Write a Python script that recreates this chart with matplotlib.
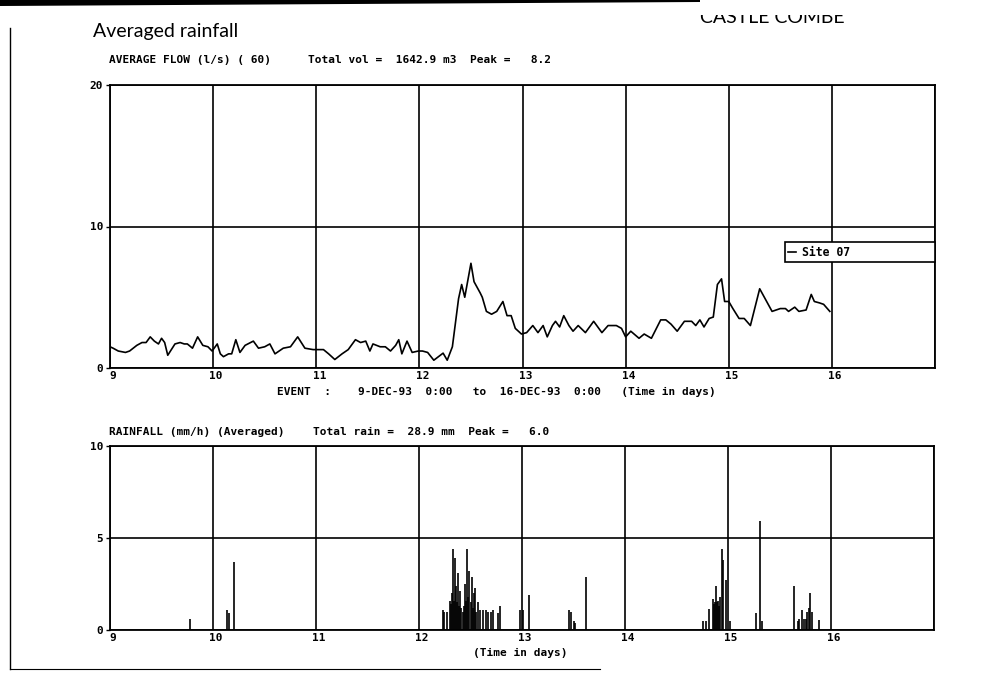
import matplotlib
matplotlib.use("Agg")
import matplotlib.pyplot as plt
from matplotlib.transforms import ScaledTranslation
from matplotlib.patches import Polygon, Rectangle
from matplotlib.lines import Line2D

# ---------------- data ----------------
flow_t = [9.00, 9.03, 9.08, 9.15, 9.19, 9.26, 9.31, 9.35, 9.39, 9.43, 9.47, 9.50, 9.53, 9.56,
          9.63, 9.68, 9.72, 9.75, 9.80, 9.85, 9.90, 9.95, 9.99,
          10.04, 10.07, 10.10, 10.15, 10.18, 10.22, 10.26, 10.31, 10.39, 10.44, 10.50, 10.55,
          10.60, 10.68, 10.75, 10.82, 10.89, 10.97,
          11.07, 11.12, 11.18, 11.25, 11.31, 11.38, 11.43, 11.48, 11.52, 11.55, 11.62, 11.67,
          11.72, 11.77, 11.80, 11.83, 11.88, 11.93, 11.99,
          12.03, 12.08, 12.14, 12.23, 12.27, 12.32, 12.38, 12.41, 12.44, 12.50, 12.53, 12.59,
          12.61, 12.65, 12.70, 12.75, 12.81, 12.85, 12.89, 12.93, 12.99,
          13.04, 13.10, 13.15, 13.20, 13.24, 13.29, 13.32, 13.36, 13.40, 13.45, 13.49, 13.54,
          13.61, 13.69, 13.77, 13.83, 13.91, 13.96,
          14.00, 14.05, 14.13, 14.18, 14.25, 14.34, 14.39, 14.44, 14.50, 14.57, 14.64, 14.68,
          14.72, 14.76, 14.81, 14.85, 14.89, 14.93, 14.96,
          15.00, 15.04, 15.10, 15.15, 15.21, 15.30, 15.42, 15.50, 15.55, 15.58, 15.64, 15.68,
          15.75, 15.80, 15.83, 15.88, 15.92, 15.98]
flow_v = [1.5, 1.4, 1.2, 1.1, 1.2, 1.6, 1.8, 1.8, 2.2, 1.9, 1.7, 2.1, 1.8, 0.9,
          1.7, 1.8, 1.7, 1.7, 1.4, 2.2, 1.6, 1.5, 1.2,
          1.7, 1.0, 0.8, 1.0, 1.0, 2.0, 1.1, 1.6, 1.9, 1.4, 1.5, 1.7,
          1.0, 1.4, 1.5, 2.2, 1.4, 1.3,
          1.3, 1.0, 0.6, 1.0, 1.3, 2.0, 1.8, 1.9, 1.2, 1.7, 1.5, 1.5,
          1.2, 1.6, 2.0, 1.0, 1.9, 1.1, 1.2,
          1.2, 1.1, 0.55, 1.05, 0.55, 1.5, 4.9, 5.9, 5.0, 7.4, 6.1, 5.3,
          5.0, 4.0, 3.8, 4.0, 4.7, 3.7, 3.7, 2.8, 2.4,
          2.5, 3.0, 2.5, 3.0, 2.2, 3.0, 3.3, 2.9, 3.7, 3.0, 2.6, 3.0,
          2.5, 3.3, 2.5, 3.0, 3.0, 2.8,
          2.2, 2.6, 2.1, 2.4, 2.1, 3.4, 3.4, 3.1, 2.6, 3.3, 3.3, 3.0,
          3.4, 2.9, 3.5, 3.6, 5.9, 6.3, 4.7,
          4.7, 4.2, 3.5, 3.5, 3.0, 5.6, 4.0, 4.2, 4.2, 4.0, 4.3, 4.0,
          4.1, 5.2, 4.7, 4.6, 4.5, 4.0]

rain_t = [9.78,
          10.14, 10.16, 10.20,
          12.23, 12.24, 12.27, 12.30, 12.31, 12.32, 12.33, 12.34, 12.35, 12.36, 12.37, 12.38,
          12.39, 12.40, 12.41, 12.43, 12.44, 12.45, 12.46, 12.47, 12.48, 12.49, 12.50, 12.51,
          12.52, 12.53, 12.54, 12.55, 12.57, 12.59, 12.62, 12.65, 12.67, 12.70, 12.72, 12.77, 12.79,
          12.98, 13.01, 13.07,
          13.46, 13.48, 13.50, 13.51, 13.62,
          14.76, 14.79, 14.82, 14.85, 14.86, 14.87, 14.88, 14.89, 14.90, 14.91, 14.92, 14.94,
          14.95, 14.98, 15.02,
          15.27, 15.31, 15.33,
          15.64, 15.68, 15.69, 15.72, 15.74, 15.76, 15.77, 15.79, 15.80, 15.82, 15.88]
rain_v = [0.6,
          1.1, 0.9, 3.7,
          1.1, 1.0, 1.0, 1.6, 1.4, 2.0, 4.4, 1.6, 3.9, 2.4, 1.5, 3.1,
          1.3, 2.1, 1.2, 1.0, 1.3, 2.5, 1.6, 4.4, 1.8, 3.2, 1.5, 2.9,
          1.2, 2.0, 2.3, 1.0, 1.5, 1.1, 1.1, 1.1, 1.0, 1.0, 1.1, 0.9, 1.3,
          1.1, 1.1, 1.9,
          1.1, 1.0, 0.5, 0.4, 2.9,
          0.5, 0.5, 1.15, 1.7, 1.4, 1.5, 2.4, 1.5, 1.6, 1.3, 1.8, 4.4,
          3.8, 2.7, 0.5,
          0.9, 5.9, 0.5,
          2.4, 0.5, 0.6, 1.1, 0.6, 0.6, 1.0, 1.2, 2.0, 1.0, 0.55]

x_ticks = [9, 10, 11, 12, 13, 14, 15, 16, 17]
x_labels = ["9", "10", "11", "12", "13", "14", "15", "16", ""]
flow_yticks = [0, 10, 20]
rain_yticks = [0, 5, 10]

title_text = "Averaged rainfall"
site_text = "CASTLE COMBE"
flow_head1 = "AVERAGE FLOW (l/s) ( 60)"
flow_head2 = "Total vol =  1642.9 m3  Peak =   8.2"
event_text = "EVENT  :    9-DEC-93  0:00   to  16-DEC-93  0:00   (Time in days)"
rain_head1 = "RAINFALL (mm/h) (Averaged)"
rain_head2 = "Total rain =  28.9 mm  Peak =   6.0"
xlabel_text = "(Time in days)"
legend_label = "Site 07"

# ---------------- figure ----------------
W, H = 983, 674
fig = plt.figure(figsize=(W / 100, H / 100), dpi=100)
fig.patch.set_facecolor("white")


def fx(px):
    return px / W


def fy(py):
    return 1 - py / H


MONO = dict(family=["DejaVu Sans Mono"], size=8, weight="bold")

ax1 = fig.add_axes([fx(110), fy(368), (935 - 110) / W, (368 - 85) / H])
ax2 = fig.add_axes([fx(110), fy(630), (934 - 110) / W, (630 - 446) / H])

for ax, yt in ((ax1, flow_yticks), (ax2, rain_yticks)):
    ax.set_xlim(9, 17)
    ax.set_ylim(yt[0], yt[-1])
    ax.set_xticks(x_ticks)
    ax.set_xticklabels(x_labels, fontdict=MONO)
    ax.set_yticks(yt)
    ax.set_yticklabels([str(v) for v in yt], fontdict=MONO)
    ax.tick_params(axis="x", length=0, pad=2.5)
    ax.tick_params(axis="y", length=3, width=1, pad=2, direction="out")
    ax.grid(True, color="black", lw=1.2)
    ax.set_axisbelow(True)
    for sp in ax.spines.values():
        sp.set_linewidth(1.3)
        sp.set_color("black")
    off = ScaledTranslation(3 / 100, 0, fig.dpi_scale_trans)
    for lab in ax.get_xticklabels():
        lab.set_transform(lab.get_transform() + off)

line, = ax1.plot(flow_t, flow_v, color="black", lw=1.2, zorder=3)
leg = ax1.legend([line], [legend_label], loc="center left",
                 bbox_to_anchor=(0.818, 0.375, 0.182, 0.067), mode="expand",
                 borderaxespad=0, frameon=True, fancybox=False, framealpha=1,
                 edgecolor="black", handlelength=0.7, handletextpad=0.5,
                 borderpad=0.3, prop=dict(family="DejaVu Sans Mono", size=8.3, weight="bold"))
leg.get_frame().set_linewidth(1.2)
leg.set_zorder(5)

ax2.vlines(rain_t, 0, rain_v, color="black", lw=1.2, zorder=3)

# ---------------- texts ----------------
fig.text(fx(93), fy(32), title_text, family=["Lato", "DejaVu Sans"], weight="normal",
         color="black", size=14, ha="left", va="center")
fig.text(fx(700), fy(23), site_text, family=["Lato", "DejaVu Sans"], weight="normal",
         color="black", size=14, ha="left", va="baseline", zorder=2)
fig.text(fx(109), fy(60), flow_head1, ha="left", va="center", **MONO)
fig.text(fx(308), fy(60), flow_head2, ha="left", va="center", **MONO)
fig.text(fx(277), fy(392), event_text, ha="left", va="center", **MONO)
fig.text(fx(109), fy(432), rain_head1, ha="left", va="center", **MONO)
fig.text(fx(313), fy(432), rain_head2, ha="left", va="center", **MONO)
fig.text(fx(520), fy(653), xlabel_text, ha="center", va="center", **MONO)

# ---------------- scan border decorations ----------------
fig.add_artist(Rectangle((fx(690), fy(15)), (870 - 690) / W, 15 / H, transform=fig.transFigure,
                         facecolor="white", edgecolor="none", zorder=20))
fig.add_artist(Polygon([(0, 1), (fx(700), 1), (fx(700), fy(2)), (0, fy(6))],
                       closed=True, transform=fig.transFigure, facecolor="black",
                       edgecolor="none", zorder=21))
fig.add_artist(Line2D([fx(10), fx(10)], [fy(28), fy(669)], transform=fig.transFigure,
                      color="black", lw=1.0))
fig.add_artist(Line2D([fx(10), fx(600)], [fy(669), fy(669)], transform=fig.transFigure,
                      color="black", lw=0.8))

fig.savefig("out.png", dpi=100, facecolor="white")
